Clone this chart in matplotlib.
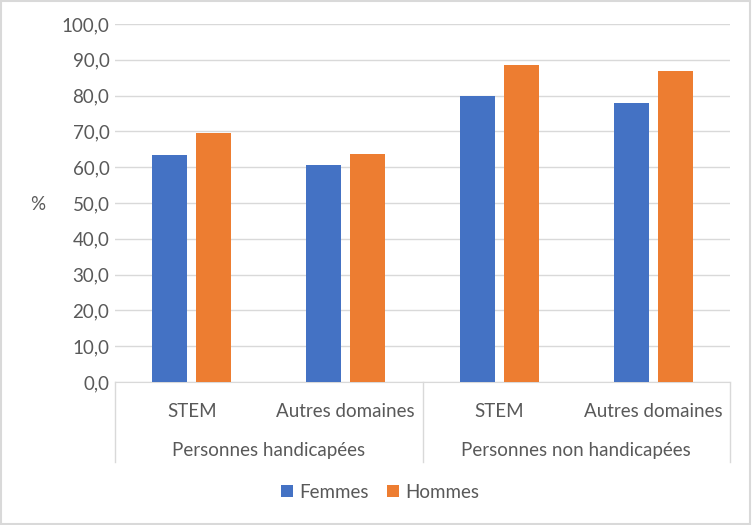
import matplotlib.pyplot as plt
import numpy as np

# donnees
groups = ["Personnes handicapées", "Personnes non handicapées"]
domains = ["STEM", "Autres domaines", "STEM", "Autres domaines"]
femmes = [63.4, 60.6, 79.9, 77.9]
hommes = [69.6, 63.7, 88.5, 86.9]
yticks = [0, 10, 20, 30, 40, 50, 60, 70, 80, 90, 100]

plt.rcParams['font.family'] = ['Lato', 'DejaVu Sans']
txt = "#595959"
grid = "#d9d9d9"
fs = 13.5

fig = plt.figure(figsize=(7.52, 5.25), dpi=100)
ax = fig.add_axes([115/752, (525-382)/525, (730-115)/752, (382-24)/525])

x = np.arange(len(domains))
w = 0.228
ax.bar(x - 0.143, femmes, w, color="#4472c4", label="Femmes", zorder=3)
ax.bar(x + 0.143, hommes, w, color="#ed7d31", label="Hommes", zorder=3)

ax.set_xlim(-0.5, 3.5)
ax.set_ylim(0, 100)
ax.set_yticks(yticks)
ax.set_yticklabels([f"{v:.1f}".replace(".", ",") for v in yticks], color=txt, fontsize=fs)
ax.tick_params(axis="y", length=0, pad=4)
ax.yaxis.grid(True, color=grid, linewidth=1, zorder=0)
for s in ["top", "right", "left"]:
    ax.spines[s].set_visible(False)
ax.spines["bottom"].set_color(grid)

# axe des categories a deux niveaux
ax.set_xticks(x)
ax.set_xticklabels(domains, color=txt, fontsize=fs)
ax.tick_params(axis="x", length=0, pad=15)
trans = ax.get_xaxis_transform()
for xs in [-0.5, 1.5, 3.5]:
    ax.plot([xs, xs], [0, -0.223], color=grid, lw=1, transform=trans, clip_on=False)
for i, g in enumerate(groups):
    ax.text(2*i + 0.5, -0.19, g, transform=trans, ha="center", va="center",
            color=txt, fontsize=fs)

fig.text(38/752, 1 - 204/525, "%", ha="center", va="center", color=txt, fontsize=fs)

fig.legend(loc="center", bbox_to_anchor=(380/752, 1 - 492/525), ncol=2, frameon=False,
           fontsize=fs, labelcolor=txt, handlelength=0.65, handleheight=0.65,
           handletextpad=0.3, columnspacing=1.0)

# cadre
fig.patches.append(plt.Rectangle((0.001, 0.002), 0.997, 0.996, transform=fig.transFigure,
                                 fill=False, edgecolor=grid, lw=1.5))

fig.savefig("out.png", dpi=100)
